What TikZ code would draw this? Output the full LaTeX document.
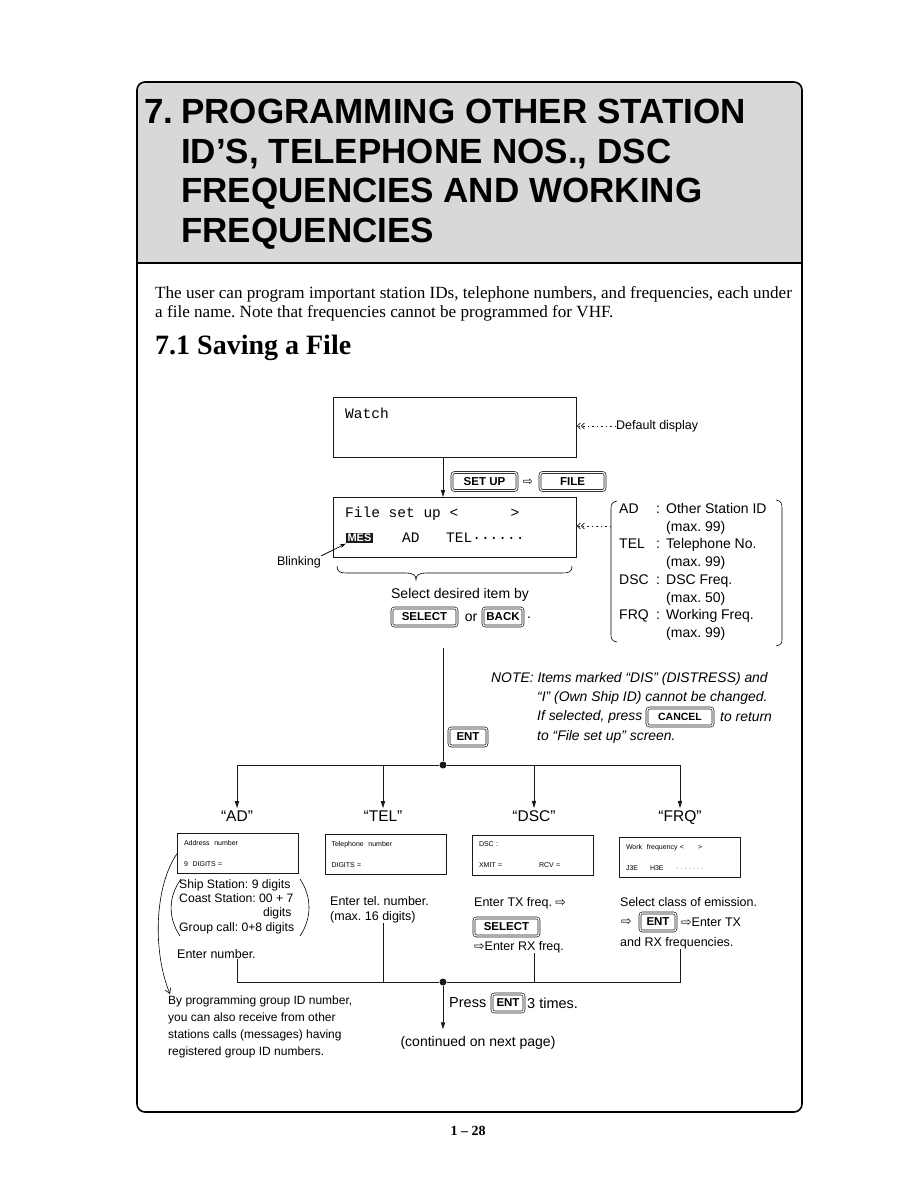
\documentclass[tikz,border=0pt]{standalone}
\usepackage{fontspec}
\setmainfont{Liberation Serif}
\setsansfont{Liberation Sans}
\setmonofont{Liberation Mono}
\newfontfamily\symfont{DejaVu Sans}
\usetikzlibrary{arrows.meta,positioning,calc}
\frenchspacing
\definecolor{ink}{RGB}{25,25,25}
\definecolor{tone}{RGB}{216,216,216}
\newcommand{\fsz}[1]{\fontsize{#1}{1.2\dimexpr#1pt\relax}\selectfont}
\newcommand{\nxt}{{\symfont\char"21E8}}
\tikzset{
  >={Triangle[length=7pt,width=4.2pt]},
  lcd/.style={draw=ink,line width=0.8pt,minimum width=#1,minimum height=60pt,inner sep=0pt},
  lcd/.default=243pt,
  minilcd/.style={draw=ink,line width=0.7pt,minimum width=121pt,minimum height=40pt,
    font=\sffamily\fontsize{7}{7}\selectfont,align=left,text width=108pt,inner sep=0pt},
  keycap/.style={draw=ink,double=white,double distance=1.2pt,line width=0.7pt,
    rounded corners=2.5pt,font=\sffamily\bfseries\fsz{11.5},inner sep=0pt,
    minimum height=18pt,minimum width=#1},
  keycap/.default=36pt,
  mono/.style={font=\ttfamily\fsz{14.5},inner sep=0pt},
  lbl/.style={font=\sffamily\fsz{14},inner sep=0pt},
  txt/.style={font=\sffamily\fsz{12.5},inner sep=0pt},
  note/.style={font=\sffamily\itshape\fsz{13.9},inner sep=0pt},
  head/.style={font=\sffamily\fsz{15.5},inner sep=2pt},
  flow/.style={->,line width=0.8pt,draw=ink},
  wire/.style={line width=0.8pt,draw=ink},
  dotarrow/.style={dash pattern=on 1.3pt off 3.2pt,line width=1pt,draw=ink,
    -{Straight Barb[length=3pt,width=6pt,line width=0.8pt]Straight Barb[length=3pt,width=6pt,line width=0.8pt]}},
  hubdot/.style={circle,fill=ink,inner sep=0pt,minimum size=7pt},
}
\begin{document}
\begin{tikzpicture}[x=1pt,y=-1pt]
  \useasboundingbox (0,0) rectangle (918,1188);
  \fill[white] (0,0) rectangle (918,1188);
  % page frame and title band
  \fill[tone] (137,263) [rounded corners=8pt] -- (137,82) -- (802,82) [sharp corners] -- (802,263) -- cycle;
  \draw[line width=1.6pt,rounded corners=8pt] (137,82) rectangle (802,1112);
  \draw[line width=1.2pt] (137,263) -- (802,263);
  \node[font=\sffamily\bfseries\fontsize{35}{39.5}\selectfont,anchor=north west,inner sep=0pt] (ttlnum) at (144,99) {7.};
  \node[font=\sffamily\bfseries\fontsize{35}{39.5}\selectfont,anchor=north west,align=left,inner sep=0pt] (ttl) at (181,99)
    {PROGRAMMING OTHER STATION\\ID’S, TELEPHONE NOS., DSC\\FREQUENCIES AND WORKING\\FREQUENCIES};
  \node[font=\fsz{17.1},anchor=west,inner sep=0pt] (intro1) at (155,294) {The user can program important station IDs, telephone numbers, and frequencies, each under};
  \node[font=\fsz{17.1},anchor=west,inner sep=0pt] (intro2) at (155,313) {a file name. Note that frequencies cannot be programmed for VHF.};
  \node[font=\bfseries\fsz{28},anchor=west,inner sep=0pt] (sec) at (155,348) {7.1 Saving a File};

  % watch and file set up displays
  \coordinate (spine) at (443,0);
  \node[lcd,anchor=north west] (watch) at (333,397) {};
  \node[mono,anchor=west] (watchtxt) at (345,413) {Watch};
  \node[txt,anchor=west] (dflt) at (616,426) {Default display};
  \draw[dotarrow] (dflt.west) -- (dflt.west -| watch.east);
  \node[lcd,anchor=north west] (fsu) at (333,497) {};
  \draw[flow] (watch.south -| spine) -- (fsu.north -| spine);
  \node[keycap=65pt] (setup) at (484.5,481.5) {SET UP};
  \node[inner sep=0pt,font=\fsz{12}] (then1) at (528,482) {\nxt};
  \node[keycap=65pt] (file) at (572.5,481.5) {FILE};
  \node[mono,anchor=west] (fsutxt) at (345,514) {File set up <\ \ \ \ \ \ >};
  \node[fill=ink,text=white,font=\sffamily\bfseries\fsz{11},inner sep=1.5pt] (mes) at (359.5,538) {MES};
  \node[mono,anchor=west] (adtxt) at (402,538) {AD};
  \node[mono,anchor=west] (teltxt0) at (446,538) {TEL······};
  \node[txt,anchor=east] (blink) at (321,562) {Blinking};
  \draw[->,line width=0.7pt,>={Stealth[length=6pt,width=4pt]}] (blink.north east) -- (mes.south west);
  % brace under display
  \draw[line width=0.6pt] (337,566) .. controls (337,572) and (340,573) .. (347,573) -- (406,573)
    .. controls (413,573) and (416,575) .. (416,580) .. controls (416,575) and (419,573) .. (426,573)
    -- (562,573) .. controls (569,573) and (572,572) .. (572,566);
  \node[lbl] (seltxt) at (460,595) {Select desired item by};
  \node[keycap=65pt] (select) at (424.5,617) {SELECT};
  \node[lbl] (or) at (471,618) {or};
  \node[keycap=40pt] (back) at (503,617) {BACK};
  \node[lbl] (stop) at (529,618) {.};

  % item list
  \foreach \k/\d/\m [count=\i from 0] in {AD/Other Station ID/99,TEL/Telephone No./99,DSC/DSC Freq./50,FRQ/Working Freq./99}{
    \node[lbl,anchor=base west] (k\i) at (619,{513+35.5*\i}) {\k};
    \node[lbl,anchor=base west] (c\i) at (656,{513+35.5*\i}) {:};
    \node[lbl,anchor=base west] (d\i) at (666,{513+35.5*\i}) {\d};
    \node[lbl,anchor=base west] (m\i) at (666,{531+35.5*\i}) {(max. \m)};
  }
  \draw[line width=0.6pt] (617,501) .. controls (612,502) and (611,504) .. (611,509) -- (611,635)
    .. controls (611,639) and (612,641) .. (617,642);
  \draw[line width=0.6pt] (776,500) .. controls (781,501) and (782,503) .. (782,508) -- (782,639)
    .. controls (782,643) and (781,645) .. (776,646);
  \coordinate (lstleft) at (611,526);
  \draw[dotarrow] (lstleft) -- (lstleft -| fsu.east);

  % note and ENT
  \coordinate (spinetop) at (443,648);
  \node[hubdot] (hub) at (443,765) {};
  \draw[wire] (spinetop) -- (hub);
  \node[keycap=38pt] (ent1) at (468,737) {ENT};
  \node[note,anchor=west] (note1) at (491,679) {NOTE: Items marked “DIS” (DISTRESS) and};
  \node[note,anchor=west] (note2) at (537,698) {“I” (Own Ship ID) cannot be changed.};
  \node[note,anchor=west] (note3) at (537,717) {If selected, press};
  \node[keycap=66pt,font=\sffamily\bfseries\fsz{10.5}] (cancel) at (680,717) {CANCEL};
  \node[note,anchor=west] (note4) at (720,717) {to return};
  \node[note,anchor=west] (note5) at (537,737) {to “File set up” screen.};

  % four branches
  \foreach \b/\t/\x in {ad/AD/237,tel/TEL/383,dsc/DSC/534,frq/FRQ/680}{
    \node[head,anchor=base] (\b lbl) at (\x,821) {“\t”};
    \draw[flow] (hub) -| (\b lbl);
  }
  \node[minilcd] (adscr) at (238,853.5) {Address\ \ number\\[14pt]9\ \ DIGITS =};
  \node[minilcd] (telscr) at (385.5,854) {Telephone\ \ number\\[14pt]DIGITS =};
  \node[minilcd] (dscscr) at (533,855) {DSC :\\[14pt]\makebox[60pt][l]{XMIT =}RCV =};
  \node[minilcd] (frqscr) at (680,857) {Work\ \ frequency <\hspace{14pt}>\\[14pt]\makebox[24pt][l]{J3E}\makebox[26pt][l]{H3E}$\cdot\cdot\cdot\cdot\cdot\cdot\cdot$};

  % AD details
  \node[font=\sffamily\fontsize{12.2}{14.4}\selectfont,anchor=north west,align=left,inner sep=0pt] (adinfo) at (179,879)
    {Ship Station: 9 digits\\Coast Station: 00 + 7\\\phantom{Coast Station: 00 + 7}\llap{digits\hspace{2pt}}\\Group call: 0+8 digits};
  \draw[line width=0.6pt] (181,879) .. controls (168,897) and (168,918) .. (180,936);
  \draw[line width=0.6pt] (300,879) .. controls (312,897) and (312,918) .. (300,936);
  \node[txt,anchor=west] (adenter) at (177,954) {Enter number.};
  \coordinate (grptip) at (170,994);
  \draw[line width=0.6pt,-{Straight Barb[length=5pt,width=6pt]}] (adscr.west) .. controls (155,885) and (152,950) .. (grptip);
  \node[font=\sffamily\fontsize{12}{16.7}\selectfont,anchor=north west,align=left,inner sep=0pt] (grp) at (168,996)
    {By programming group ID number,\\you can also receive from other\\stations calls (messages) having\\registered group ID numbers.};

  % TEL, DSC, FRQ details
  \node[txt,anchor=north west,align=left,font=\sffamily\fontsize{12.5}{15}\selectfont] (teltxt) at (330,896) {Enter tel. number.\\(max. 16 digits)};
  \node[txt,anchor=west] (dsctx) at (474,903) {Enter TX freq. \nxt};
  \node[keycap=65pt] (select2) at (506.5,927) {SELECT};
  \node[txt,anchor=west] (dscrx) at (474,947) {\nxt Enter RX freq.};
  \node[txt,anchor=west] (frqtxt1) at (620,902) {Select class of emission.};
  \node[txt,anchor=west] (then2) at (621,922) {\nxt};
  \node[keycap=36pt] (ent2) at (658,922) {ENT};
  \node[txt,anchor=west] (frqtxt2) at (681,922) {\nxt Enter TX};
  \node[txt,anchor=west] (frqtxt3) at (620,943) {and RX frequencies.};

  % merge to bottom
  \node[hubdot] (hub2) at (443,982) {};
  \draw[wire] (adenter.south -| adlbl) |- (hub2);
  \draw[wire] (teltxt.south -| tellbl) |- (hub2);
  \draw[wire] (dscrx.south -| dsclbl) |- (hub2);
  \draw[wire] (frqtxt3.south -| frqlbl) |- (hub2);
  \node[font=\sffamily\fsz{14.5},anchor=west,inner sep=0pt] (press) at (449,1003) {Press};
  \node[keycap=32pt] (ent3) at (508,1003) {ENT};
  \node[font=\sffamily\fsz{14.5},anchor=west,inner sep=0pt] (times) at (527,1003) {3 times.};
  \node[lbl] (cont) at (478,1043) {(continued on next page)};
  \draw[flow] (hub2) -- ($(hub2 |- cont.north)+(0,-7)$);

  \node[font=\bfseries\fsz{14},inner sep=0pt] (pageno) at (468,1131) {1 – 28};
\end{tikzpicture}
\end{document}
